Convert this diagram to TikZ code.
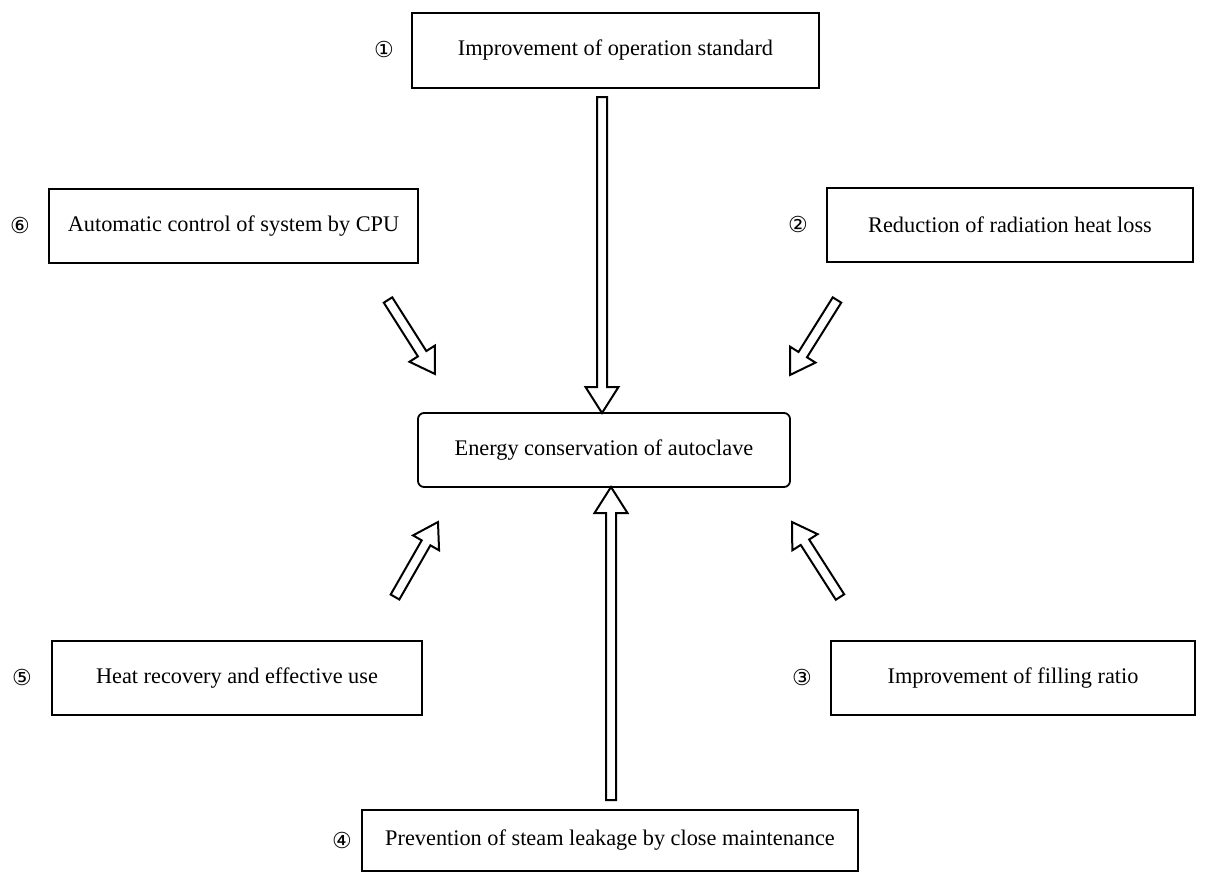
\documentclass[tikz,border=0pt]{standalone}
\usepackage{fontspec}
\setmainfont{Liberation Serif}
\newfontfamily\circfont{DejaVu Sans}
\usetikzlibrary{calc}

% hollow block arrow from #1 (tail) to #2 (tip);
% #3 stem half-width, #4 head half-width, #5 head length
\newcommand\blockarrow[5]{%
  \draw[blockarr] let \p1=(#1), \p2=(#2),
    \n1={atan2(\y2-\y1,\x2-\x1)}, \n2={veclen(\x2-\x1,\y2-\y1)} in
    {[shift={(\p1)}, rotate=\n1]
     (0,-#3) -- (\n2-#5,-#3) -- (\n2-#5,-#4) -- (\n2,0)
     -- (\n2-#5,#4) -- (\n2-#5,#3) -- (0,#3) -- cycle};}

\begin{document}
\begin{tikzpicture}[x=1pt,y=-1pt,
  box/.style={draw, line width=1.8pt, rectangle, inner sep=0pt,
    font=\fontsize{22.3}{26}\selectfont},
  goal/.style={box, rounded corners=6pt},
  num/.style={font=\circfont\fontsize{22}{24}\selectfont, inner sep=0pt},
  blockarr/.style={line width=2pt, line join=miter, fill=white}]
\useasboundingbox (0,0) rectangle (1211,878);

% measures
\node[box, minimum width=407, minimum height=75] (m1) at (615.5,50.5) {Improvement of operation standard};
\node[box, minimum width=366, minimum height=74] (m2) at (1010,225) {Reduction of radiation heat loss};
\node[box, minimum width=364, minimum height=74] (m3) at (1013,678) {Improvement of filling ratio};
\node[box, minimum width=496, minimum height=61] (m4) at (610,840.5) {Prevention of steam leakage by close maintenance};
\node[box, minimum width=370, minimum height=74] (m5) at (237,678) {Heat recovery and effective use};
\node[box, minimum width=369, minimum height=74] (m6) at (233.5,226) {Automatic control of system by CPU};

% goal
\node[goal, minimum width=372, minimum height=74] (goal) at (604,450) {Energy conservation of autoclave};

% numbering
\node[num] (n1) at (384,49) {①};
\node[num] (n2) at (798,224) {②};
\node[num] (n3) at (802,677) {③};
\node[num] (n4) at (342,840) {④};
\node[num] (n5) at (22,677) {⑤};
\node[num] (n6) at (20,225) {⑥};

% arrow ends
\coordinate (t1) at (602,97);  \coordinate (h1) at (602,413);
\coordinate (t4) at (611,800); \coordinate (h4) at (611,487);
\coordinate (t6) at (388,300); \coordinate (h6) at (435,374);
\coordinate (t2) at (837,300); \coordinate (h2) at (790,375);
\coordinate (t5) at (395,597); \coordinate (h5) at (438,522);
\coordinate (t3) at (840,597); \coordinate (h3) at (792,522);

\blockarrow{t1}{h1}{5}{16.5}{26}
\blockarrow{t4}{h4}{5}{16.5}{26}
\blockarrow{t6}{h6}{5}{15}{24}
\blockarrow{t2}{h2}{5}{15}{24}
\blockarrow{t5}{h5}{5}{15}{24}
\blockarrow{t3}{h3}{5}{15}{24}
\end{tikzpicture}
\end{document}
